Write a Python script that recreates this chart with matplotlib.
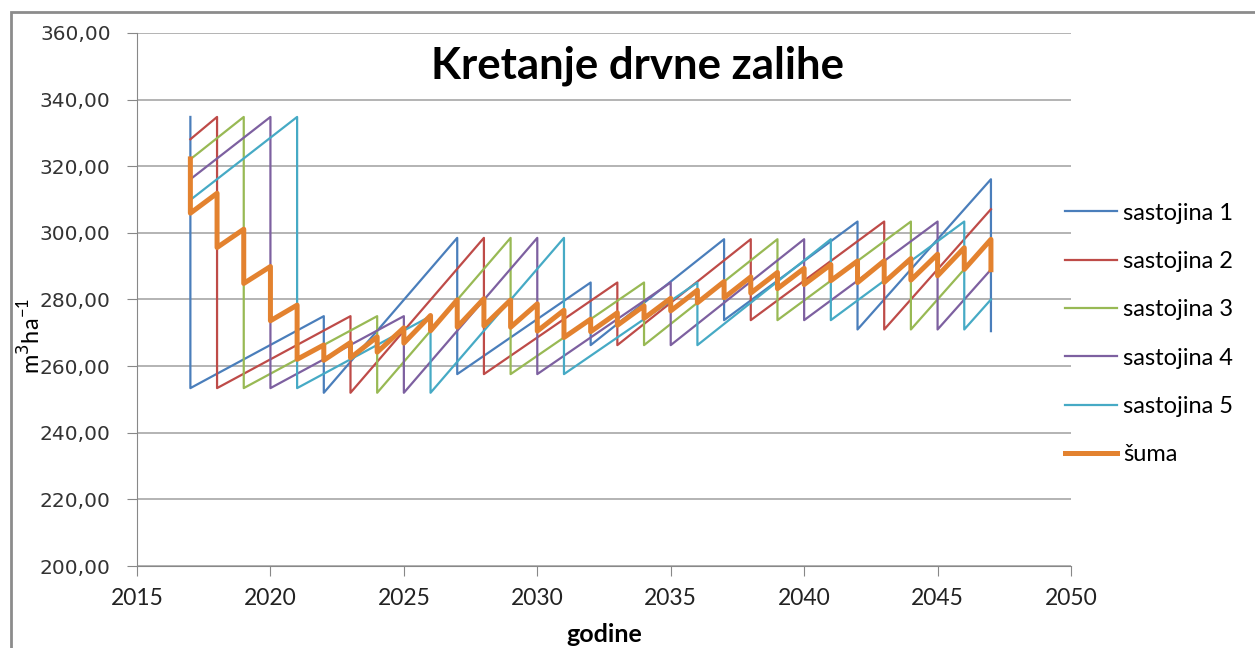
import matplotlib
matplotlib.use("Agg")
import matplotlib.pyplot as plt
from matplotlib.patches import Rectangle

# stands: breakpoints (before / after each cut)
god_1 = [2017, 2017, 2022, 2022, 2027, 2027, 2032, 2032, 2037, 2037, 2042, 2042, 2047, 2047]
zal_1 = [334.8, 253.4, 275.0, 252.0, 298.5, 257.6, 285.1, 266.3, 298.1, 273.8, 303.4, 271.0, 316.1, 270.5]

god_2 = [2017, 2018, 2018, 2023, 2023, 2028, 2028, 2033, 2033, 2038, 2038, 2043, 2043, 2047]
zal_2 = [328.1, 334.8, 253.4, 275.0, 252.0, 298.5, 257.6, 285.1, 266.3, 298.1, 273.8, 303.4, 271.0, 307.1]

god_3 = [2017, 2019, 2019, 2024, 2024, 2029, 2029, 2034, 2034, 2039, 2039, 2044, 2044, 2047]
zal_3 = [322.1, 334.8, 253.4, 275.0, 252.0, 298.5, 257.6, 285.1, 266.3, 298.1, 273.8, 303.4, 271.0, 298.1]

god_4 = [2017, 2020, 2020, 2025, 2025, 2030, 2030, 2035, 2035, 2040, 2040, 2045, 2045, 2047]
zal_4 = [316.1, 334.8, 253.4, 275.0, 252.0, 298.5, 257.6, 285.1, 266.3, 298.1, 273.8, 303.4, 271.0, 289.0]

god_5 = [2017, 2021, 2021, 2026, 2026, 2031, 2031, 2036, 2036, 2041, 2041, 2046, 2046, 2047]
zal_5 = [309.9, 334.8, 253.4, 275.0, 252.0, 298.5, 257.6, 285.1, 266.3, 298.1, 273.8, 303.4, 271.0, 280.0]

# forest total (each year: before and after cut)
god_suma = [y for y in range(2017, 2048) for _ in (0, 1)]
zal_suma = [322.20, 305.92, 311.89, 295.61, 301.10, 284.82, 289.90, 273.62, 278.32, 262.04,
            266.36, 261.76, 267.08, 262.48, 268.79, 264.19, 271.50, 266.90, 275.20, 270.60,
            279.90, 271.72, 280.26, 272.08, 279.86, 271.68, 278.70, 270.52, 276.78, 268.60,
            274.10, 270.34, 276.01, 272.25, 278.10, 274.34, 280.35, 276.59, 282.78, 279.02,
            285.38, 280.52, 286.79, 281.93, 288.12, 283.26, 289.35, 284.49, 290.50, 285.64,
            291.56, 285.08, 291.62, 285.14, 292.30, 285.82, 293.60, 287.12, 295.52, 289.04,
            298.06, 288.94]

labels = ["sastojina 1", "sastojina 2", "sastojina 3", "sastojina 4", "sastojina 5", "šuma"]
colors = ["#4A7EBB", "#BE4B48", "#98B954", "#7D60A0", "#46AAC5", "#E3822F"]

x_ticks = [2015, 2020, 2025, 2030, 2035, 2040, 2045, 2050]
y_ticks = [200, 220, 240, 260, 280, 300, 320, 340, 360]

fig = plt.figure(figsize=(12.55, 6.48), dpi=100)
fig.patches.append(Rectangle((11 / 1255, -0.1), 1.2, 1.1 - 12 / 648, transform=fig.transFigure,
                             fill=False, edgecolor="#8c8c8c", linewidth=2))
ax = fig.add_axes([137 / 1255, 82 / 648, 934 / 1255, 533 / 648])

series = [(god_1, zal_1), (god_2, zal_2), (god_3, zal_3), (god_4, zal_4), (god_5, zal_5)]
for (g, z), lab, c in zip(series, labels[:5], colors[:5]):
    ax.plot(g, z, color=c, linewidth=1.6, label=lab)
ax.plot(god_suma, zal_suma, color=colors[5], linewidth=3.6, label=labels[5])

ax.set_xlim(2015, 2050)
ax.set_ylim(200, 360)
ax.set_xticks(x_ticks)
ax.set_yticks(y_ticks)
ax.set_yticklabels([("%.2f" % v).replace(".", ",") for v in y_ticks],
                   fontsize=14.5, family="DejaVu Sans", color="#333333")
ax.set_xticklabels([str(v) for v in x_ticks], fontsize=16.5,
                   family="Lato", color="#222222")
ax.yaxis.grid(True, color="#9f9f9f", linewidth=1.1)
ax.set_axisbelow(True)
for s in ["top", "right"]:
    ax.spines[s].set_visible(False)
for s in ["left", "bottom"]:
    ax.spines[s].set_color("#888888")
ax.tick_params(axis="both", color="#888888", length=7, direction="out")
ax.tick_params(axis="x", pad=9)
ax.tick_params(axis="y", pad=12)

fig.text(0.508, 1 - 66 / 648, "Kretanje drvne zalihe", fontsize=31.5, fontweight="bold",
         family="Lato", ha="center", va="center")
fig.text(604 / 1255, 1 - 635 / 648, "godine", fontsize=18, fontweight="bold",
         family="Lato", ha="center", va="center")
fig.text(31 / 1255, 1 - 336 / 648, r"m$^{3}$ha$^{\mathdefault{-1}}$", fontsize=17,
         rotation=90, ha="center", va="center", family="Lato")

ax.legend(loc="center left", bbox_to_anchor=(1044 / 1255, 1 - 334 / 648),
          bbox_transform=fig.transFigure, frameon=False,
          handlelength=2.2, labelspacing=1.16, handletextpad=0.25,
          prop={"family": "Lato", "size": 17})

fig.savefig("out.png", dpi=100)
